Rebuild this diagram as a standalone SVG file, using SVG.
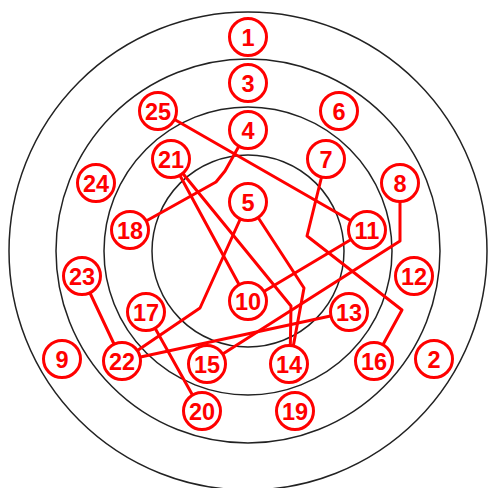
<svg xmlns="http://www.w3.org/2000/svg" width="488" height="488" viewBox="0 0 488 488">
<style>
.ring{fill:none;stroke:#222;stroke-width:1.5}
.e{fill:none;stroke:#ff0000;stroke-width:3;stroke-linejoin:round;stroke-linecap:round}
.n circle{fill:#fff;stroke:#ff0000;stroke-width:3}
.n text{fill:#ff0000;font-family:"Liberation Sans",Arial,sans-serif;font-weight:bold;font-size:23.5px;text-anchor:middle}
</style>
<rect width="488" height="488" fill="#fff"/>
<g id="rings">
<circle class="ring" cx="248" cy="251" r="239"/>
<circle class="ring" cx="248" cy="251" r="192"/>
<circle class="ring" cx="248" cy="251" r="144"/>
<circle class="ring" cx="248" cy="251" r="96"/>
</g>
<g id="connectors">
<polyline class="e" points="158,110 367,230"/>
<polyline class="e" points="248,130 225,171 216,182 130,230"/>
<polyline class="e" points="171,159 248,301"/>
<polyline class="e" points="171,159 291,306 290,364"/>
<polyline class="e" points="248,202 304,288 290,364"/>
<polyline class="e" points="248,202 200,308 122,361"/>
<polyline class="e" points="82,276 122,361"/>
<polyline class="e" points="146,312 202,412"/>
<polyline class="e" points="122,361 349,312"/>
<polyline class="e" points="400,183 400,241 207,364"/>
<polyline class="e" points="326,159 307,236 402,310 374,361"/>
<polyline class="e" points="248,301 367,230"/>
</g>
<g id="n1" class="n"><circle cx="248" cy="37" r="18.5"/><text x="248" y="45.5">1</text></g>
<g id="n2" class="n"><circle cx="434" cy="359" r="18.5"/><text x="434" y="367.5">2</text></g>
<g id="n3" class="n"><circle cx="248" cy="83" r="18.5"/><text x="248" y="91.5">3</text></g>
<g id="n4" class="n"><circle cx="248" cy="130" r="18.5"/><text x="248" y="138.5">4</text></g>
<g id="n5" class="n"><circle cx="248" cy="202" r="18.5"/><text x="248" y="210.5">5</text></g>
<g id="n6" class="n"><circle cx="339" cy="111" r="18.5"/><text x="339" y="119.5">6</text></g>
<g id="n7" class="n"><circle cx="326" cy="159" r="18.5"/><text x="326" y="167.5">7</text></g>
<g id="n8" class="n"><circle cx="400" cy="183" r="18.5"/><text x="400" y="191.5">8</text></g>
<g id="n9" class="n"><circle cx="62" cy="359" r="18.5"/><text x="62" y="367.5">9</text></g>
<g id="n10" class="n"><circle cx="248" cy="301" r="18.5"/><text x="248" y="309.5">10</text></g>
<g id="n11" class="n"><circle cx="367" cy="230" r="18.5"/><text x="367" y="238.5">11</text></g>
<g id="n12" class="n"><circle cx="414" cy="276" r="18.5"/><text x="414" y="284.5">12</text></g>
<g id="n13" class="n"><circle cx="349" cy="312" r="18.5"/><text x="349" y="320.5">13</text></g>
<g id="n14" class="n"><circle cx="289" cy="364" r="18.5"/><text x="289" y="372.5">14</text></g>
<g id="n15" class="n"><circle cx="207" cy="364" r="18.5"/><text x="207" y="372.5">15</text></g>
<g id="n16" class="n"><circle cx="374" cy="361" r="18.5"/><text x="374" y="369.5">16</text></g>
<g id="n17" class="n"><circle cx="146" cy="312" r="18.5"/><text x="146" y="320.5">17</text></g>
<g id="n18" class="n"><circle cx="130" cy="230" r="18.5"/><text x="130" y="238.5">18</text></g>
<g id="n19" class="n"><circle cx="295" cy="411" r="18.5"/><text x="295" y="419.5">19</text></g>
<g id="n20" class="n"><circle cx="202" cy="411" r="18.5"/><text x="202" y="419.5">20</text></g>
<g id="n21" class="n"><circle cx="171" cy="159" r="18.5"/><text x="171" y="167.5">21</text></g>
<g id="n22" class="n"><circle cx="122" cy="361" r="18.5"/><text x="122" y="369.5">22</text></g>
<g id="n23" class="n"><circle cx="82" cy="276" r="18.5"/><text x="82" y="284.5">23</text></g>
<g id="n24" class="n"><circle cx="96" cy="183" r="18.5"/><text x="96" y="191.5">24</text></g>
<g id="n25" class="n"><circle cx="158" cy="111" r="18.5"/><text x="158" y="119.5">25</text></g>
</svg>
